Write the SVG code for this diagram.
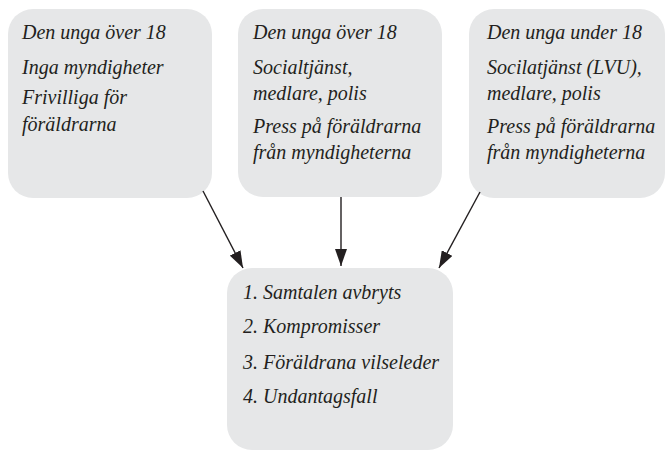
<svg xmlns="http://www.w3.org/2000/svg" width="666" height="452" viewBox="0 0 666 452">
<defs>
<style>
.box{fill:#e6e7e8;stroke:none}
.t{font-style:italic;font-size:20px;fill:#231f20}
.c{stroke:#231f20;stroke-width:1.4;fill:none}
</style>
<marker id="ah" markerUnits="userSpaceOnUse" markerWidth="17" markerHeight="12" refX="17" refY="6" orient="auto" viewBox="0 0 17 12">
<path d="M0,0 L17,6 L0,12 z" fill="#231f20"/>
</marker>
</defs>
<rect width="666" height="452" fill="#ffffff"/>
<g id="node1" font-family="Times New Roman, serif">
<rect class="box" x="8" y="9" width="204" height="189" rx="25"/>
<text class="t" x="22" y="39">Den unga över 18</text>
<text class="t" x="22" y="74">Inga myndigheter</text>
<text class="t" x="22" y="104">Frivilliga för</text>
<text class="t" x="22" y="131">föräldrarna</text>
</g>
<g id="node2" font-family="Times New Roman, serif">
<rect class="box" x="238" y="9" width="204" height="188" rx="25"/>
<text class="t" x="253" y="39">Den unga över 18</text>
<text class="t" x="253" y="74">Socialtjänst,</text>
<text class="t" x="253" y="100">medlare, polis</text>
<text class="t" x="253" y="133">Press på föräldrarna</text>
<text class="t" x="253" y="159">från myndigheterna</text>
</g>
<g id="node3" font-family="Times New Roman, serif">
<rect class="box" x="469" y="9" width="196" height="189" rx="25"/>
<text class="t" x="487" y="39">Den unga under 18</text>
<text class="t" x="487" y="74">Socilatjänst (LVU),</text>
<text class="t" x="487" y="100">medlare, polis</text>
<text class="t" x="487" y="133">Press på föräldrarna</text>
<text class="t" x="487" y="159">från myndigheterna</text>
</g>
<g id="node4" font-family="Times New Roman, serif">
<rect class="box" x="227" y="268" width="226" height="182" rx="25"/>
<text class="t" x="243" y="299">1. Samtalen avbryts</text>
<text class="t" x="243" y="333">2. Kompromisser</text>
<text class="t" x="243" y="369">3. Föräldrana vilseleder</text>
<text class="t" x="243" y="403">4. Undantagsfall</text>
</g>
<g id="connectors">
<line class="c" x1="203" y1="191" x2="243" y2="268" marker-end="url(#ah)"/>
<line class="c" x1="341" y1="197" x2="341" y2="266" marker-end="url(#ah)"/>
<line class="c" x1="480" y1="192" x2="439" y2="268" marker-end="url(#ah)"/>
</g>
</svg>
